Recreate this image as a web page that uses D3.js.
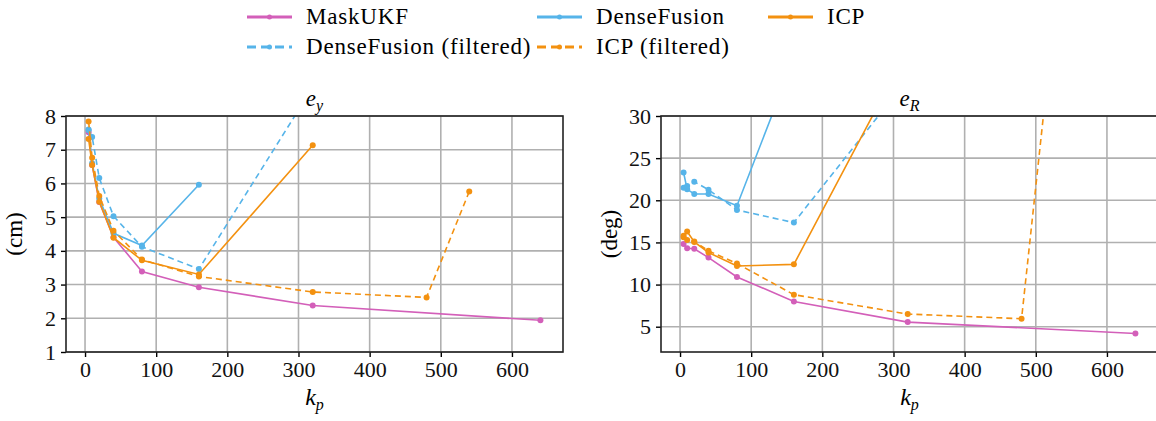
<!DOCTYPE html>
<html>
<head>
<meta charset="utf-8">
<script src="https://cdn.jsdelivr.net/npm/d3@7"></script>
<style>
  body { margin: 0; background: #fff; }
  svg { display: block; }
  svg text { font-family: "Liberation Serif", serif; }
</style>
</head>
<body>
<div id="plot"></div>
<script>
// k_p values per series
const kpMask = [5, 10, 20, 40, 80, 160, 320, 640];
const kpDF = [5, 10, 20, 40, 80, 160];
const kpDFFilt = [5, 10, 20, 40, 80, 160, 320];
const kpICP = [5, 10, 20, 40, 80, 160, 320];
const kpICPFilt = [5, 10, 20, 40, 80, 160, 320, 480, 540];

// e_y (cm)
const maskEy = [7.52, 6.55, 5.45, 4.4, 3.39, 2.92, 2.38, 1.94];
const dfEy = [7.6, 6.6, 5.55, 4.52, 4.16, 5.96];
const dfFiltEy = [7.58, 7.38, 6.16, 5.03, 4.12, 3.46, 8.85];
const icpEy = [7.32, 6.55, 5.46, 4.39, 3.72, 3.3, 7.13];
const icpFiltEy = [7.84, 6.76, 5.63, 4.6, 3.74, 3.24, 2.78, 2.62, 5.76];

// e_R (deg)
const maskER = [14.8, 14.3, 14.25, 13.2, 10.9, 8.0, 5.55, 4.2];
const dfER = [23.3, 21.3, 20.75, 20.75, 19.35, 36.8];
const dfFiltER = [21.5, 21.7, 22.2, 21.25, 18.85, 17.35, 34.4];
const icpER = [15.6, 16.3, 15.05, 13.8, 12.2, 12.4, 37.9];
const icpFiltER = [15.8, 15.3, 15.1, 14.0, 12.5, 8.8, 6.5, 5.95, 53];

const xTicks = [0, 100, 200, 300, 400, 500, 600];
const eyTicks = [1, 2, 3, 4, 5, 6, 7, 8];
const eRTicks = [5, 10, 15, 20, 25, 30];

const colors = { mask: "#d35fb9", df: "#56b4e9", icp: "#f39110" };

const series = [
  { key: "mask", name: "MaskUKF", color: colors.mask, dash: null, kp: kpMask, ey: maskEy, eR: maskER },
  { key: "df", name: "DenseFusion", color: colors.df, dash: null, kp: kpDF, ey: dfEy, eR: dfER },
  { key: "dff", name: "DenseFusion (filtered)", color: colors.df, dash: "6,4", kp: kpDFFilt, ey: dfFiltEy, eR: dfFiltER },
  { key: "icp", name: "ICP", color: colors.icp, dash: null, kp: kpICP, ey: icpEy, eR: icpER },
  { key: "icpf", name: "ICP (filtered)", color: colors.icp, dash: "6,4", kp: kpICPFilt, ey: icpFiltEy, eR: icpFiltER },
];

const width = 1156,
  height = 421;
const svg = d3.select("#plot").append("svg").attr("width", width).attr("height", height);

const plotTop = 116,
  plotBottom = 352;
const serif = "Liberation Serif";

const panels = [
  { x0: 66, x1: 563, field: "ey", domain: [1, 8], ticks: eyTicks, ylabel: "(cm)", sub: "y", id: "clipL" },
  { x0: 661, x1: 1158, field: "eR", domain: [2, 30], ticks: eRTicks, ylabel: "(deg)", sub: "R", id: "clipR" },
];

panels.forEach((p) => {
  const x = d3.scaleLinear().domain([-26.75, 671.75]).range([p.x0, p.x1]);
  const y = d3.scaleLinear().domain(p.domain).range([plotBottom, plotTop]);
  const g = svg.append("g");

  g.append("clipPath").attr("id", p.id).append("rect")
    .attr("x", p.x0).attr("y", plotTop).attr("width", p.x1 - p.x0).attr("height", plotBottom - plotTop);

  // grid
  g.append("g").selectAll("line").data(xTicks).join("line")
    .attr("x1", (d) => x(d)).attr("x2", (d) => x(d)).attr("y1", plotTop).attr("y2", plotBottom)
    .attr("stroke", "#b0b0b0").attr("stroke-width", 1.6);
  g.append("g").selectAll("line").data(p.ticks).join("line")
    .attr("x1", p.x0).attr("x2", p.x1).attr("y1", (d) => y(d)).attr("y2", (d) => y(d))
    .attr("stroke", "#b0b0b0").attr("stroke-width", 1.6);

  // data
  const plot = g.append("g").attr("clip-path", `url(#${p.id})`);
  series.forEach((s) => {
    const pts = s.kp.map((k, i) => [k, s[p.field][i]]);
    const line = d3.line().x((d) => x(d[0])).y((d) => y(d[1]));
    plot.append("path").datum(pts).attr("d", line)
      .attr("fill", "none").attr("stroke", s.color).attr("stroke-width", 1.6)
      .attr("stroke-dasharray", s.dash);
    plot.append("g").selectAll("circle").data(pts).join("circle")
      .attr("cx", (d) => x(d[0])).attr("cy", (d) => y(d[1])).attr("r", 3)
      .attr("fill", s.color);
  });

  // axes
  const xAxis = d3.axisBottom(x).tickValues(xTicks).tickFormat(d3.format("d")).tickSize(5).tickPadding(4);
  const gx = g.append("g").attr("transform", `translate(0,${plotBottom})`).call(xAxis);
  const yAxis = d3.axisLeft(y).tickValues(p.ticks).tickFormat(d3.format("d")).tickSize(5).tickPadding(5);
  const gy = g.append("g").attr("transform", `translate(${p.x0},0)`).call(yAxis);
  [gx, gy].forEach((a) => {
    a.attr("font-family", serif).attr("font-size", 22);
    a.select(".domain").remove();
    a.selectAll("line").attr("stroke", "#000").attr("stroke-width", 1.4);
    a.selectAll("text").attr("font-family", serif).style("font-family", serif)
      .attr("font-size", 22).attr("fill", "#111");
  });

  g.append("rect").attr("x", p.x0).attr("y", plotTop).attr("width", p.x1 - p.x0).attr("height", plotBottom - plotTop)
    .attr("fill", "none").attr("stroke", "#222").attr("stroke-width", 1.6);

  // title
  const cx = (p.x0 + p.x1) / 2;
  const t = g.append("text").attr("x", cx).attr("y", 106).attr("text-anchor", "middle")
    .attr("font-size", 23).attr("font-style", "italic");
  t.append("tspan").text("e");
  t.append("tspan").attr("dy", 5).attr("font-size", 16).text(p.sub);

  // x label
  const xl = g.append("text").attr("x", cx).attr("y", 405).attr("text-anchor", "middle")
    .attr("font-size", 24).attr("font-style", "italic");
  xl.append("tspan").text("k");
  xl.append("tspan").attr("dy", 5).attr("font-size", 16).text("p");

  // y label
  g.append("text")
    .attr("transform", `translate(${p.x0 - 44},${(plotTop + plotBottom) / 2}) rotate(-90)`)
    .attr("text-anchor", "middle").attr("font-size", 23).text(p.ylabel);
});

// legend
const legendPos = {
  mask: [247, 17],
  df: [537, 17],
  icp: [768, 17],
  dff: [247, 47],
  icpf: [537, 47],
};
const lg = svg.append("g");
series.forEach((s) => {
  const [lx, ly] = legendPos[s.key];
  lg.append("line").attr("x1", lx).attr("x2", lx + 45).attr("y1", ly).attr("y2", ly)
    .attr("stroke", s.color).attr("stroke-width", 3)
    .attr("stroke-dasharray", s.dash ? "9,5" : null);
  lg.append("circle").attr("cx", lx + 22.5).attr("cy", ly).attr("r", 2.5).attr("fill", s.color);
  lg.append("text").attr("x", lx + 59).attr("y", ly + 7).attr("font-size", 23)
    .attr("letter-spacing", 0.8).text(s.name);
});
</script>
</body>
</html>
